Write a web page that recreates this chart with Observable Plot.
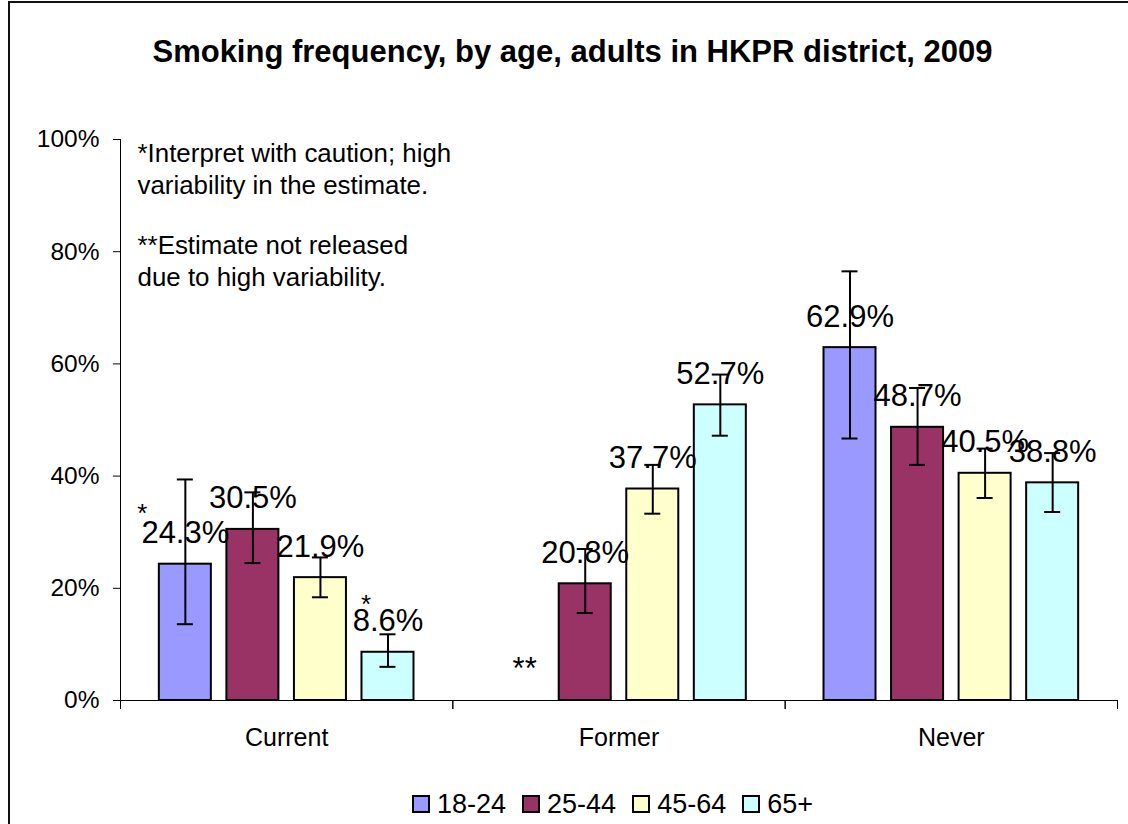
<!DOCTYPE html>
<html>
<head>
<meta charset="utf-8">
<script src="https://cdn.jsdelivr.net/npm/d3@7"></script>
<script src="https://cdn.jsdelivr.net/npm/@observablehq/plot@0.6"></script>
<style>
  html, body { margin: 0; padding: 0; background: #fff; overflow: hidden; }
  #wrap { position: relative; width: 1128px; height: 824px; overflow: hidden; font-family: "Liberation Sans", Arial, sans-serif; color: #000; }
  #border { position: absolute; left: 8px; top: 1px; width: 1130px; height: 830px; border-left: 2px solid #111; border-top: 2px solid #111; box-sizing: border-box; }
  #title { position: relative; height: 100px; box-sizing: border-box; padding-top: 36px; line-height: 32px; font-size: 31px; font-weight: bold; text-align: center; padding-left: 17px; white-space: nowrap; }
  #chart { position: relative; height: 660px; }
  #legend { position: relative; padding-top: 29px; padding-left: 412px; display: flex; align-items: center; height: 30px; }
  .item { display: flex; align-items: center; margin-right: 16px; font-size: 27px; line-height: 30px; }
  .sw { width: 18px; height: 18px; border: 2px solid #000; box-sizing: border-box; margin-right: 7px; }
</style>
</head>
<body>
<div id="wrap">
  <div id="border"></div>
  <div id="title"></div>
  <div id="chart"></div>
  <div id="legend"></div>
</div>
<script>
// ---- data ----
const titleText = "Smoking frequency, by age, adults in HKPR district, 2009";
const categories = ["Current", "Former", "Never"];
const ages = ["18-24", "25-44", "45-64", "65+"];
const ageColors = ["#9999FF", "#993366", "#FFFFCC", "#CCFFFF"];

const currentValues = [24.3, 30.5, 21.9, 8.6];
const formerValues  = [null, 20.8, 37.7, 52.7];
const neverValues   = [62.9, 48.7, 40.5, 38.8];

const currentLow  = [13.6, 24.5, 18.4, 6.0];
const currentHigh = [39.4, 37.1, 25.5, 11.8];
const formerLow   = [null, 15.6, 33.3, 47.2];
const formerHigh  = [null, 27.0, 42.0, 58.1];
const neverLow    = [46.7, 42.0, 36.1, 33.6];
const neverHigh   = [76.5, 55.7, 44.9, 44.1];

const currentFlags = ["*", "", "", "*"];
const formerFlags  = ["**", "", "", ""];
const neverFlags   = ["", "", "", ""];

const yTicks = [0, 20, 40, 60, 80, 100];
const note1 = "*Interpret with caution; high\nvariability in the estimate.";
const note2 = "**Estimate not released\ndue to high variability.";

// ---- build table ----
const valueTable = [currentValues, formerValues, neverValues];
const lowTable = [currentLow, formerLow, neverLow];
const highTable = [currentHigh, formerHigh, neverHigh];
const flagTable = [currentFlags, formerFlags, neverFlags];
const rows = categories.flatMap((cat, ci) => ages.map((age, ai) => ({
  cat, age,
  value: valueTable[ci][ai],
  low: lowTable[ci][ai],
  high: highTable[ci][ai],
  flag: flagTable[ci][ai]
})));
const present = rows.filter(d => d.value != null);
const missing = rows.filter(d => d.value == null);

document.getElementById("title").textContent = titleText;

const chart = Plot.plot({
  width: 1128,
  height: 660,
  marginTop: 39,
  marginBottom: 60,
  marginLeft: 120,
  marginRight: 11,
  style: { fontFamily: "'Liberation Sans', Arial, sans-serif", color: "#000", background: "transparent" },
  fx: { domain: categories, paddingInner: 0, paddingOuter: 0, round: false, label: null },
  x: { domain: ages, paddingInner: 0.23, paddingOuter: 0.575, round: false, axis: null },
  y: { domain: [0, 100], label: null },
  color: { domain: ages, range: ageColors },
  marks: [
    Plot.axisY({ ticks: yTicks, tickFormat: d => d + "%", tickSize: 7, tickPadding: 14, fontSize: 24.5, label: null, stroke: "#000", strokeOpacity: 1 }),
    Plot.axisFx({ anchor: "bottom", tickSize: 0, tickPadding: 28, fontSize: 25, label: null, lineAnchor: "top" }),
    Plot.frame({ anchor: "left", facet: "super", stroke: "#000", strokeWidth: 1 }),
    Plot.frame({ anchor: "bottom", facet: "super", stroke: "#000", strokeWidth: 1 }),
    Plot.frame({ anchor: "left", insetTop: 561, insetBottom: -8, stroke: "#000", strokeWidth: 1 }),
    Plot.frame({ anchor: "right", insetTop: 561, insetBottom: -8, stroke: "#000", strokeWidth: 1 }),
    Plot.barY(present, { fx: "cat", x: "age", y: "value", fill: "age", stroke: "#000", strokeWidth: 2 }),
    Plot.text(present, {
      fx: "cat", x: "age", y: "value",
      text: d => d.value.toFixed(1) + "%",
      dy: -31, fontSize: 31, lineAnchor: "middle"
    }),
    Plot.text(missing, {
      fx: "cat", x: "age", y: () => 0, text: "flag",
      dx: 7, dy: -31, fontSize: 31, lineAnchor: "middle"
    }),
    Plot.text(rows.filter(d => d.flag === "*" && d.age === "18-24"), {
      fx: "cat", x: "age", y: "value", text: "flag", dx: -43, dy: -51, fontSize: 26
    }),
    Plot.text(rows.filter(d => d.flag === "*" && d.age === "65+"), {
      fx: "cat", x: "age", y: "value", text: "flag", dx: -22, dy: -48, fontSize: 26
    }),
    Plot.ruleX(present, { fx: "cat", x: "age", y1: "low", y2: "high", stroke: "#000", strokeWidth: 2 }),
    Plot.tickY(present, { fx: "cat", x: "age", y: "low", insetLeft: 18, insetRight: 18, stroke: "#000", strokeWidth: 2 }),
    Plot.tickY(present, { fx: "cat", x: "age", y: "high", insetLeft: 18, insetRight: 18, stroke: "#000", strokeWidth: 2 }),
    Plot.text([note1], { fx: () => "Current", frameAnchor: "top-left", text: d => d, textAnchor: "start", lineAnchor: "top", dx: 17, dy: -1, fontSize: 25.9, lineHeight: 1.255 }),
    Plot.text([note2], { fx: () => "Current", frameAnchor: "top-left", text: d => d, textAnchor: "start", lineAnchor: "top", dx: 17, dy: 91, fontSize: 25.9, lineHeight: 1.255 })
  ]
});
document.getElementById("chart").appendChild(chart);

const legend = document.getElementById("legend");
ages.forEach((a, i) => {
  const item = document.createElement("div");
  item.className = "item";
  const sw = document.createElement("div");
  sw.className = "sw";
  sw.style.background = ageColors[i];
  const lab = document.createElement("span");
  lab.textContent = a;
  item.appendChild(sw);
  item.appendChild(lab);
  legend.appendChild(item);
});
</script>
</body>
</html>
